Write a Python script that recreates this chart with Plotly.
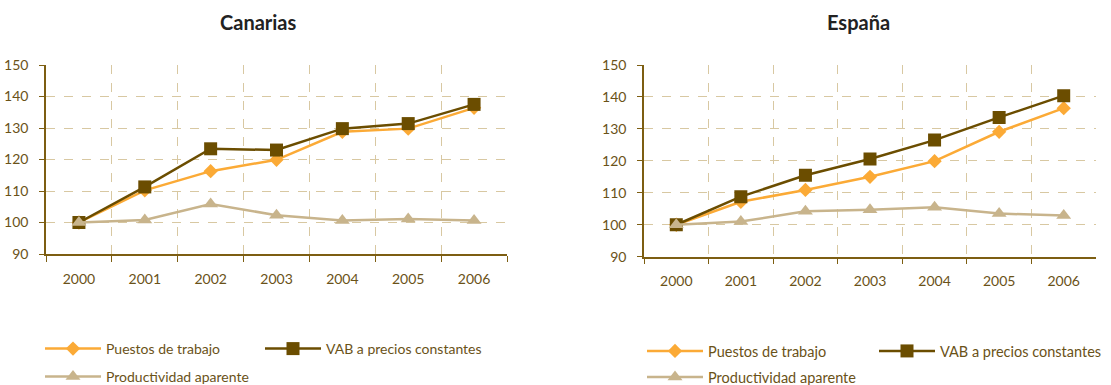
import plotly.graph_objects as go

years = ["2000", "2001", "2002", "2003", "2004", "2005", "2006"]
series_names = ["Puestos de trabajo", "VAB a precios constantes", "Productividad aparente"]

can_puestos = [100, 110.2, 116.3, 119.9, 128.8, 129.8, 136.4]
can_vab = [100, 111.3, 123.4, 123.0, 129.8, 131.4, 137.5]
can_prod = [100, 100.8, 105.9, 102.3, 100.6, 101.1, 100.6]

esp_puestos = [100, 107.2, 110.9, 115.0, 119.9, 129.1, 136.5]
esp_vab = [100, 108.8, 115.5, 120.6, 126.5, 133.6, 140.4]
esp_prod = [100, 101.0, 104.2, 104.7, 105.5, 103.5, 102.9]

colors = ["#FBAA36", "#6B4D00", "#C8B48C"]
symbols = ["diamond", "square", "triangle-up"]
msizes = [11, 13, 13]

AXIS = "#7D5E12"
TEXT = "#6A5218"
GRID = "#D8C8A2"
FONT = "Lato"

W, H = 1111, 385


def px(x):
    return x / W


def py(y):
    return 1 - y / H


fig = go.Figure()

panels = [
    ("x", "y", [can_puestos, can_vab, can_prod], ["legend", "legend2", "legend3"]),
    ("x2", "y2", [esp_puestos, esp_vab, esp_prod], ["legend4", "legend5", "legend6"]),
]
for xa, ya, data, legs in panels:
    for i, vals in enumerate(data):
        fig.add_trace(go.Scatter(
            x=years, y=vals, name=series_names[i], mode="lines+markers",
            xaxis=xa, yaxis=ya, legend=legs[i], showlegend=True,
            line=dict(color=colors[i], width=2.5),
            marker=dict(symbol=symbols[i], size=msizes[i], color=colors[i],
                        line=dict(width=0)),
        ))

xcommon = dict(type="category", range=[-0.5, 6.5], tickson="boundaries",
               showline=True, linecolor=AXIS, linewidth=1.5,
               ticks="outside", ticklen=6, tickcolor=AXIS, tickwidth=1.2,
               showgrid=True, gridcolor=GRID, griddash="dash", gridwidth=1,
               tickfont=dict(family=FONT, size=14, color=TEXT),
               ticklabelstandoff=11, zeroline=False, fixedrange=True)
ycommon = dict(range=[90, 150], dtick=10, tick0=90,
               showline=True, linecolor=AXIS, linewidth=1.5,
               ticks="outside", ticklen=5, tickcolor=AXIS, tickwidth=1.2,
               showgrid=True, gridcolor=GRID, griddash="dash", gridwidth=1,
               tickfont=dict(family=FONT, size=14, color=TEXT),
               ticklabelstandoff=8, zeroline=False, fixedrange=True)

fig.update_layout(
    width=W, height=H, autosize=False, showlegend=True,
    margin=dict(l=0, r=0, t=0, b=0, autoexpand=False),
    paper_bgcolor="white", plot_bgcolor="white",
    font=dict(family=FONT, color=TEXT),
    xaxis=dict(**xcommon, domain=[px(46), px(507)], anchor="y"),
    yaxis=dict(**ycommon, domain=[py(254), py(65)], anchor="x"),
    xaxis2=dict(**xcommon, domain=[px(644), px(1096)], anchor="y2"),
    yaxis2=dict(**ycommon, domain=[py(256.7), py(65)], anchor="x2"),
    annotations=[
        dict(text="<b>Canarias</b>", x=px(258), y=py(22), xref="paper", yref="paper",
             showarrow=False, font=dict(family=FONT, size=20, color="#222222"),
             xanchor="center", yanchor="middle"),
        dict(text="<b>España</b>", x=px(858), y=py(22), xref="paper", yref="paper",
             showarrow=False, font=dict(family=FONT, size=20, color="#222222"),
             xanchor="center", yanchor="middle"),
    ],
)

leg_common = dict(orientation="h", xanchor="left", yanchor="middle",
                  bgcolor="rgba(0,0,0,0)", itemwidth=56, visible=True,
                  tracegroupgap=0, itemclick=False, itemdoubleclick=False)
lf = dict(family=FONT, size=14, color=TEXT)
rf = dict(family=FONT, size=14.5, color=TEXT)
fig.update_layout(
    legend=dict(**leg_common, font=lf, x=px(40), y=py(349)),
    legend2=dict(**leg_common, font=lf, x=px(260), y=py(349)),
    legend3=dict(**leg_common, font=lf, x=px(40), y=py(377)),
    legend4=dict(**leg_common, font=rf, x=px(642), y=py(351)),
    legend5=dict(**leg_common, font=rf, x=px(874), y=py(351)),
    legend6=dict(**leg_common, font=rf, x=px(642), y=py(377)),
)

fig.write_html(
    "out.html",
    config={"displayModeBar": False},
    post_script="document.body.style.margin='0px';document.body.style.overflow='hidden';",
)
